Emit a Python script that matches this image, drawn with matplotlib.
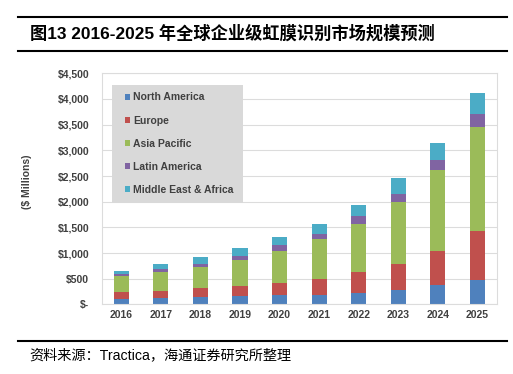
# global enterprise iris recognition market, 2016-2025 stacked bars
import matplotlib
matplotlib.use('Agg')
import matplotlib.pyplot as plt
from matplotlib.patches import Rectangle, Patch
from matplotlib.ticker import FuncFormatter
import numpy as np

plt.rcParams['font.family'] = ['Liberation Sans', 'Noto Sans CJK SC', 'DejaVu Sans']

# data ($ millions) =====================================================================
years = ['2016', '2017', '2018', '2019', '2020', '2021', '2022', '2023', '2024', '2025']
north_america = [100, 120, 150, 155, 175, 185, 230, 285, 380, 480]
europe = [150, 150, 165, 195, 240, 310, 400, 510, 655, 945]
asia_pacific = [295, 370, 410, 510, 620, 770, 930, 1190, 1580, 2030]
latin_america = [45, 50, 60, 80, 120, 110, 165, 165, 195, 245]
middle_east_africa = [65, 105, 130, 165, 165, 195, 215, 310, 330, 425]

series_names = ['North America', 'Europe', 'Asia Pacific', 'Latin America', 'Middle East & Africa']
series_colors = ['#4F81BD', '#C0504D', '#9BBB59', '#8064A2', '#4BACC6']

title = '图13 2016-2025 年全球企业级虹膜识别市场规模预测'
source = '资料来源：Tractica，海通证券研究所整理'


def money(v, pos):
    if v == 0:
        return '$-'
    return '${:,.0f}'.format(v)


def main():
    fig = plt.figure(figsize=(5.13, 3.74), dpi=100)
    ax = fig.add_axes([0.198, 0.186, 0.771, 0.618])

    x = np.arange(len(years))
    bottom = np.zeros(len(years))
    all_series = [north_america, europe, asia_pacific, latin_america, middle_east_africa]
    for vals, col in zip(all_series, series_colors):
        ax.bar(x, vals, width=0.38, bottom=bottom, color=col, zorder=2)
        bottom += np.array(vals)

    ax.set_xlim(-0.5, len(years) - 0.5)
    ax.set_ylim(0, 4500)
    ax.set_yticks(np.arange(0, 4501, 500))
    ax.yaxis.set_major_formatter(FuncFormatter(money))
    ax.set_xticks(x)
    ax.set_xticklabels(years)
    ax.tick_params(length=0, labelsize=7.5, colors='#404040', pad=4)
    for lbl in ax.get_xticklabels() + ax.get_yticklabels():
        lbl.set_fontweight('bold')
    ax.tick_params(axis='y', pad=9)
    ax.grid(axis='y', color='#dcdcdc', linewidth=0.8, zorder=0)
    for sp in ax.spines.values():
        sp.set_color('#dcdcdc')
        sp.set_linewidth(0.8)

    fig.text(0.053, 0.513, '($ Millions)', rotation=90, ha='center', va='center',
             fontsize=7.5, fontweight='bold', color='#404040')

    # legend box
    ax.add_patch(Rectangle((0.026, 0.439), 0.331, 0.511, transform=ax.transAxes,
                           facecolor='#d9d9d9', edgecolor='none', zorder=3))
    handles = [Patch(facecolor=c, edgecolor='none') for c in series_colors]
    leg = ax.legend(handles, series_names, loc='upper left', bbox_to_anchor=(0.058, 0.917),
                    frameon=False, fontsize=7.5, handlelength=0.55, handleheight=0.55,
                    handletextpad=0.3, labelspacing=1.25, borderaxespad=0, borderpad=0)
    leg.set_zorder(4)
    for t in leg.get_texts():
        t.set_fontweight('bold')
        t.set_color('#404040')

    # header / footer rules and text
    fig.add_artist(plt.Line2D([0.035, 0.988], [0.955, 0.955], color='black', linewidth=1.5))
    fig.add_artist(plt.Line2D([0.035, 0.988], [0.864, 0.864], color='black', linewidth=1.5))
    fig.add_artist(plt.Line2D([0.035, 0.988], [0.089, 0.089], color='black', linewidth=1.5))
    fig.text(0.058, 0.912, title, fontsize=12.4, fontweight='bold', va='center',
             family=['Liberation Sans', 'Noto Sans CJK SC'])
    fig.text(0.058, 0.051, source, fontsize=10.2, va='center',
             family=['Liberation Sans', 'Noto Sans CJK SC'])

    fig.savefig('out.png', dpi=100)


if __name__ == '__main__':
    main()
